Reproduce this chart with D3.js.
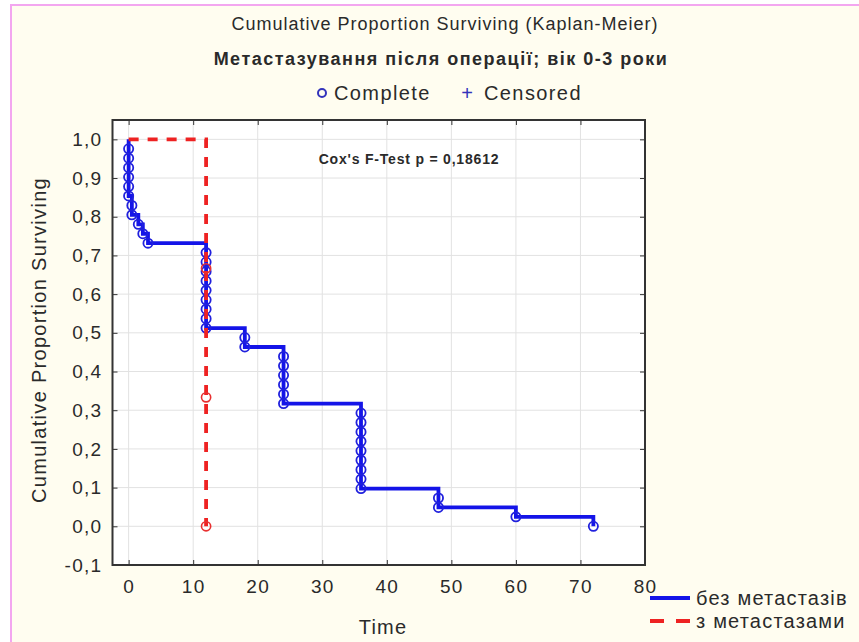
<!DOCTYPE html>
<html>
<head>
<meta charset="utf-8">
<script src="https://cdn.jsdelivr.net/npm/d3@7"></script>
<style>
  body { margin: 0; background: #fff; }
  text { font-family: "Liberation Sans", Arial, sans-serif; fill: #2a2a2a; }
</style>
</head>
<body>
<div id="chart"></div>
<script>
// group "без метастазів": event times and number of events at each time (n = 41)
var blueTimes  = [0, 0.5, 1.5, 2.2, 3, 12, 18, 24, 36, 48, 60, 72]
var blueEvents = [6, 2,   1,   1,   1, 9,  2,  6,  9,  2,  1,  1]
var blueN = 41
// group "з метастазами" (n = 3)
var redTimes  = [12]
var redEvents = [3]
var redN = 3

var xTicks = [0, 10, 20, 30, 40, 50, 60, 70, 80]
var yTicks = [-0.1, 0, 0.1, 0.2, 0.3, 0.4, 0.5, 0.6, 0.7, 0.8, 0.9, 1.0]
var seriesNames = ['без метастазів', 'з метастазами']

var width = 859, height = 642
var pLeft = 112.5, pRight = 645, pTop = 120, pBottom = 565

var svg = d3.select('#chart').append('svg')
    .attr('width', width)
    .attr('height', height)

// page background with pink frame
svg.append('rect').attr('width', width).attr('height', height).attr('fill', '#fff')
svg.append('rect')
    .attr('x', 11).attr('y', 5).attr('width', width + 20).attr('height', height + 20)
    .attr('fill', '#fffdf0').attr('stroke', '#f3a6f0').attr('stroke-width', 2)

var x = d3.scaleLinear().domain([-2.5, 80]).range([pLeft, pRight])
var y = d3.scaleLinear().domain([-0.1, 1.05]).range([pBottom, pTop])

svg.append('rect')
    .attr('x', pLeft).attr('y', pTop)
    .attr('width', pRight - pLeft).attr('height', pBottom - pTop)
    .attr('fill', '#fff')

// grid
svg.append('g').selectAll('line').data(xTicks.slice(0, -1)).enter().append('line')
    .attr('x1', function(d) { return x(d) }).attr('x2', function(d) { return x(d) })
    .attr('y1', pTop).attr('y2', pBottom)
    .attr('stroke', '#e2e2e2').attr('stroke-width', 1)
svg.append('g').selectAll('line').data(yTicks.slice(1)).enter().append('line')
    .attr('x1', pLeft).attr('x2', pRight)
    .attr('y1', function(d) { return y(d) }).attr('y2', function(d) { return y(d) })
    .attr('stroke', '#e2e2e2').attr('stroke-width', 1)

// axes with inward ticks
var fmt = function(d) { return d3.format('.1f')(d).replace('.', ',').replace('−', '-') }
var axB = svg.append('g').attr('transform', 'translate(0,' + pBottom + ')')
    .call(d3.axisBottom(x).tickValues(xTicks).tickSizeInner(-5).tickSizeOuter(0).tickPadding(12))
var axT = svg.append('g').attr('transform', 'translate(0,' + pTop + ')')
    .call(d3.axisTop(x).tickValues(xTicks).tickSizeInner(-5).tickSizeOuter(0).tickFormat(''))
var axL = svg.append('g').attr('transform', 'translate(' + pLeft + ',0)')
    .call(d3.axisLeft(y).tickValues(yTicks).tickSizeInner(-5).tickSizeOuter(0).tickPadding(10).tickFormat(fmt))
var axR = svg.append('g').attr('transform', 'translate(' + pRight + ',0)')
    .call(d3.axisRight(y).tickValues(yTicks).tickSizeInner(-5).tickSizeOuter(0).tickFormat(''))
;[axB, axT, axL, axR].forEach(function(a) {
  a.select('.domain').remove()
  a.selectAll('line').attr('stroke', '#333')
  a.selectAll('text').style('font-size', '19px').style('letter-spacing', '1.3px')
    .style('font-family', '"Liberation Sans", Arial').attr('fill', '#2a2a2a')
})
axB.selectAll('text').attr('dy', '0.85em')

svg.append('rect')
    .attr('x', pLeft).attr('y', pTop)
    .attr('width', pRight - pLeft).attr('height', pBottom - pTop)
    .attr('fill', 'none').attr('stroke', '#333').attr('stroke-width', 2)

// kaplan-meier estimates
function km(times, events, n) {
  var pts = [[0, 1]], circles = [], s = 1, atRisk = n
  times.forEach(function(t, i) {
    for (var k = 0; k < events[i]; k++) {
      s = s * (atRisk - 1) / atRisk
      atRisk--
      circles.push([t, s])
    }
    pts.push([t, s])
  })
  return { pts: pts, circles: circles }
}
var blue = km(blueTimes, blueEvents, blueN)
var red = km(redTimes, redEvents, redN)

var line = d3.line()
    .x(function(d) { return x(d[0]) })
    .y(function(d) { return y(d[1]) })
    .curve(d3.curveStepAfter)

svg.append('path').datum(blue.pts)
    .attr('d', line).attr('fill', 'none')
    .attr('stroke', '#1414e8').attr('stroke-width', 3.8)
svg.append('g').selectAll('circle').data(blue.circles).enter().append('circle')
    .attr('cx', function(d) { return x(d[0]) }).attr('cy', function(d) { return y(d[1]) })
    .attr('r', 4.6).attr('fill', 'none').attr('stroke', '#2020dd').attr('stroke-width', 1.8)

svg.append('path').datum(red.pts)
    .attr('d', line).attr('fill', 'none')
    .attr('stroke', '#ee2222').attr('stroke-width', 3.8)
    .attr('stroke-dasharray', '10,9')
svg.append('g').selectAll('circle').data(red.circles).enter().append('circle')
    .attr('cx', function(d) { return x(d[0]) }).attr('cy', function(d) { return y(d[1]) })
    .attr('r', 4.6).attr('fill', 'none').attr('stroke', '#e83030').attr('stroke-width', 1.6)

// titles
svg.append('text').attr('x', 445).attr('y', 30).attr('text-anchor', 'middle')
    .style('font-size', '18px').style('letter-spacing', '1px')
    .text('Cumulative Proportion Surviving (Kaplan-Meier)')
svg.append('text').attr('x', 441).attr('y', 65).attr('text-anchor', 'middle')
    .style('font-size', '18px').style('font-weight', 'bold').style('letter-spacing', '1.5px')
    .text('Метастазування після операції; вік 0-3 роки')

// top legend
svg.append('circle').attr('cx', 322).attr('cy', 93).attr('r', 4)
    .attr('fill', 'none').attr('stroke', '#3333bb').attr('stroke-width', 2)
svg.append('text').attr('x', 334).attr('y', 100).style('font-size', '20px')
    .style('letter-spacing', '1.4px').text('Complete')
svg.append('text').attr('x', 467).attr('y', 100).attr('text-anchor', 'middle')
    .style('font-size', '20px').style('fill', '#3333bb').text('+')
svg.append('text').attr('x', 484).attr('y', 100).style('font-size', '20px')
    .style('letter-spacing', '1.4px').text('Censored')

svg.append('text').attr('x', 409).attr('y', 164).attr('text-anchor', 'middle')
    .style('font-size', '14px').style('font-weight', 'bold').style('letter-spacing', '0.8px')
    .text("Cox's F-Test p = 0,18612")

// axis titles
svg.append('text').attr('x', 383).attr('y', 634).attr('text-anchor', 'middle')
    .style('font-size', '20px').style('letter-spacing', '1.2px').text('Time')
svg.append('text').attr('transform', 'translate(46,340) rotate(-90)').attr('text-anchor', 'middle')
    .style('font-size', '20px').style('letter-spacing', '1.3px').text('Cumulative Proportion Surviving')

// series legend
var leg = svg.append('g').selectAll('g').data(seriesNames).enter().append('g')
    .attr('transform', function(d, i) { return 'translate(650,' + (598 + i * 23) + ')' })
leg.append('line').attr('x1', 0).attr('x2', 40)
    .attr('stroke', function(d, i) { return i ? '#ee2222' : '#1414e8' })
    .attr('stroke-width', 4)
    .attr('stroke-dasharray', function(d, i) { return i ? '14,12' : null })
leg.append('text').attr('x', 46).attr('y', 7).style('font-size', '20px')
    .style('letter-spacing', '1.2px')
    .text(function(d) { return d })
</script>
</body>
</html>
